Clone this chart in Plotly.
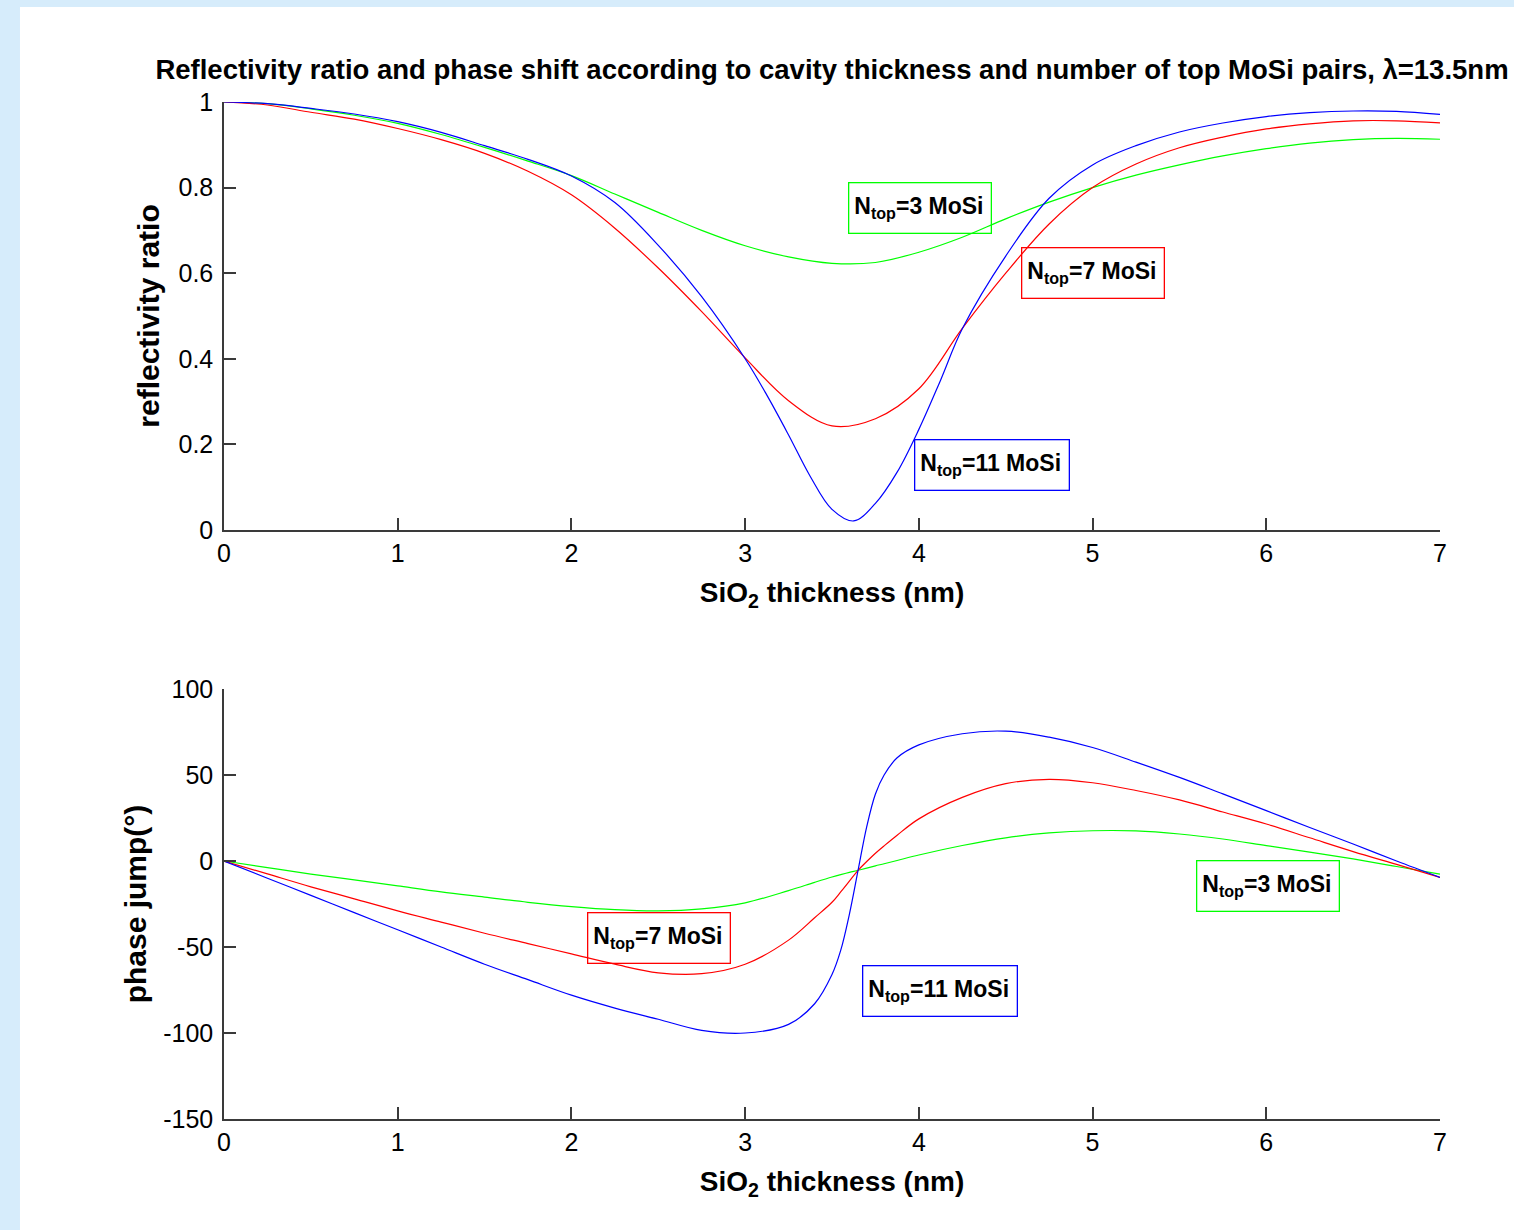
import plotly.graph_objects as go

# ---------------- data ----------------
thickness_r = [0, 0.25, 0.5, 0.75, 1, 1.25, 1.5, 1.75, 2, 2.25, 2.5, 2.75, 3, 3.25, 3.5, 3.75,
               4, 4.25, 4.5, 4.75, 5, 5.25, 5.5, 5.75, 6, 6.25, 6.5, 6.75, 7]
refl_n3 = [1.0, 0.996, 0.984, 0.969, 0.950, 0.924, 0.894, 0.862, 0.828, 0.785, 0.742, 0.700, 0.664, 0.638, 0.623, 0.625,
           0.649, 0.684, 0.727, 0.766, 0.800, 0.829, 0.853, 0.874, 0.891, 0.904, 0.912, 0.915, 0.913]
refl_n7 = [1.0, 0.993, 0.976, 0.960, 0.938, 0.912, 0.880, 0.838, 0.783, 0.705, 0.612, 0.510, 0.402, 0.302, 0.243, 0.260,
           0.330, 0.471, 0.600, 0.715, 0.800, 0.855, 0.893, 0.918, 0.937, 0.949, 0.956, 0.956, 0.951]

# the N=11 curve has a narrow dip, so it is read at a finer step around the minimum
thickness_r11 = [0, 0.25, 0.5, 0.75, 1, 1.25, 1.5, 1.75, 2, 2.25, 2.5, 2.75, 3, 3.125, 3.25, 3.375, 3.5, 3.625,
                 3.75, 3.875, 4, 4.125, 4.25, 4.5, 4.75, 5, 5.25, 5.5, 5.75, 6, 6.25, 6.5, 6.75, 7]
refl_n11 = [1.0, 0.996, 0.985, 0.972, 0.954, 0.929, 0.898, 0.866, 0.827, 0.765, 0.665, 0.545, 0.400, 0.315, 0.222, 0.125,
            0.048, 0.021, 0.062, 0.135, 0.235, 0.350, 0.470, 0.640, 0.775, 0.853, 0.898, 0.930, 0.951, 0.966, 0.975,
            0.979, 0.978, 0.971]

thickness_p = [0, 0.25, 0.5, 0.75, 1, 1.25, 1.5, 1.75, 2, 2.25, 2.5, 2.75, 3, 3.25, 3.4, 3.5, 3.55, 3.6, 3.65, 3.7,
               3.75, 3.8, 3.875, 4, 4.25, 4.5, 4.75, 5, 5.25, 5.5, 5.75, 6, 6.25, 6.5, 6.75, 7]
phase_n3 = [0, -3.8, -7.6, -11, -14.5, -18, -21, -24, -26.5, -28.3, -29, -27.8, -24.3, -17.2, -12.4, -9.3, -7.9, -6.6, -5.4, -4.1,
            -2.8, -1.6, 0.3, 3.5, 9, 13.5, 16.3, 17.6, 17.5, 15.7, 12.8, 9, 5.2, 1.2, -3.2, -7.6]
phase_n7 = [0, -7.5, -15, -22, -29, -35.5, -42, -48, -54, -60, -65, -65.5, -60, -46, -33, -24, -18, -11.7, -5.4, -0.3,
            4.5, 8.8, 15, 24.5, 37, 45, 47.5, 45.5, 41, 35.5, 28.5, 21.5, 13.5, 5.5, -2, -9.5]
phase_n11 = [0, -10, -20, -30, -40, -50, -60, -69, -78, -85.5, -92, -98.5, -100, -95, -83, -66, -52, -31, -5.5, 20,
             39, 50, 60, 67.5, 74, 75.5, 72, 66, 57.5, 48.6, 39, 29.3, 19.5, 9.9, 0, -9.5]

x_ticks = [0, 1, 2, 3, 4, 5, 6, 7]
refl_ticks = [0, 0.2, 0.4, 0.6, 0.8, 1]
refl_ticktext = ["0", "0.2", "0.4", "0.6", "0.8", "1"]
phase_ticks = [-150, -100, -50, 0, 50, 100]
phase_ticktext = ["-150", "-100", "-50", "0", "50", "100"]

series_names = ["N<sub>top</sub>=3 MoSi", "N<sub>top</sub>=7 MoSi", "N<sub>top</sub>=11 MoSi"]
series_colors = ["#00ff00", "#ff0000", "#0000ff"]

# label anchor positions (left edge x, centre y) in data units
refl_label_x = [3.59, 4.59, 3.97]
refl_label_y = [0.752, 0.600, 0.152]
phase_label_x = [5.595, 2.09, 3.67]
phase_label_y = [-14.5, -44.5, -75.6]
label_widths = [131, 131, 143]

FONT = "Liberation Sans, Arial, Helvetica, sans-serif"

fig = go.Figure()

refl_x = [thickness_r, thickness_r, thickness_r11]
for xs, vals, name, col in zip(refl_x, [refl_n3, refl_n7, refl_n11], series_names, series_colors):
    fig.add_trace(go.Scatter(x=xs, y=vals, mode="lines", name=name,
                             line=dict(color=col, width=1.2, shape="spline", smoothing=1.0),
                             xaxis="x", yaxis="y", showlegend=False))
for vals, name, col in zip([phase_n3, phase_n7, phase_n11], series_names, series_colors):
    fig.add_trace(go.Scatter(x=thickness_p, y=vals, mode="lines", name=name,
                             line=dict(color=col, width=1.2, shape="spline", smoothing=1.0),
                             xaxis="x2", yaxis="y2", showlegend=False))

axis_common = dict(showline=True, linecolor="#3a3a3a", linewidth=1.5, mirror=False,
                   ticks="inside", ticklen=12, tickwidth=1.5, tickcolor="#3a3a3a",
                   showgrid=False, zeroline=False,
                   tickfont=dict(family=FONT, size=25, color="#000000"))

xtitle = dict(text="<b>SiO<sub>2</sub> thickness (nm)</b>", font=dict(family=FONT, size=28, color="#000"), standoff=17)

fig.update_layout(
    width=1514, height=1230,
    margin=dict(l=224, r=74, t=102, b=111),
    paper_bgcolor="#d6ecfb", plot_bgcolor="rgba(0,0,0,0)",
    title=dict(text="<b>Reflectivity ratio and phase shift according to cavity thickness and number of top MoSi pairs, \u03bb=13.5nm</b>",
               x=0.5, xref="paper", xanchor="center", y=0.9439, yref="container", yanchor="middle",
               font=dict(family=FONT, size=27.5, color="#000")),
    xaxis=dict(domain=[0, 1], range=[0, 7], tickvals=x_ticks, anchor="y", title=xtitle, **axis_common),
    yaxis=dict(domain=[0.5792, 1], range=[0, 1], tickvals=refl_ticks, ticktext=refl_ticktext, anchor="x",
               ticklabelstandoff=4,
               title=dict(text="<b>reflectivity ratio</b>", font=dict(family=FONT, size=30, color="#000"), standoff=10),
               **axis_common),
    xaxis2=dict(domain=[0, 1], range=[0, 7], tickvals=x_ticks, anchor="y2", title=xtitle, **axis_common),
    yaxis2=dict(domain=[0, 0.4228], range=[-150, 100], tickvals=phase_ticks, ticktext=phase_ticktext, anchor="x2",
                ticklabelstandoff=4,
                title=dict(text="<b>phase jump(\u00b0)</b>", font=dict(family=FONT, size=30, color="#000"), standoff=8),
                **axis_common),
)

# white panel behind the figure content
fig.add_shape(type="rect", xref="paper", yref="paper", x0=-0.1678, x1=1.07, y0=-0.12, y1=1.0934,
              fillcolor="#ffffff", line=dict(width=0), layer="below")

for i in range(3):
    fig.add_annotation(x=refl_label_x[i], y=refl_label_y[i], xref="x", yref="y",
                       text="<b>" + series_names[i] + "</b>", showarrow=False,
                       xanchor="left", yanchor="middle", align="left", valign="middle",
                       width=label_widths[i], height=39,
                       font=dict(family=FONT, size=23, color="#000"),
                       bordercolor=series_colors[i], borderwidth=1.3, borderpad=5)
    fig.add_annotation(x=phase_label_x[i], y=phase_label_y[i], xref="x2", yref="y2",
                       text="<b>" + series_names[i] + "</b>", showarrow=False,
                       xanchor="left", yanchor="middle", align="left", valign="middle",
                       width=label_widths[i], height=39,
                       font=dict(family=FONT, size=23, color="#000"),
                       bordercolor=series_colors[i], borderwidth=1.3, borderpad=5)

fig.write_html("out.html", config={"displayModeBar": False},
               post_script="document.body.style.margin='0px';")
